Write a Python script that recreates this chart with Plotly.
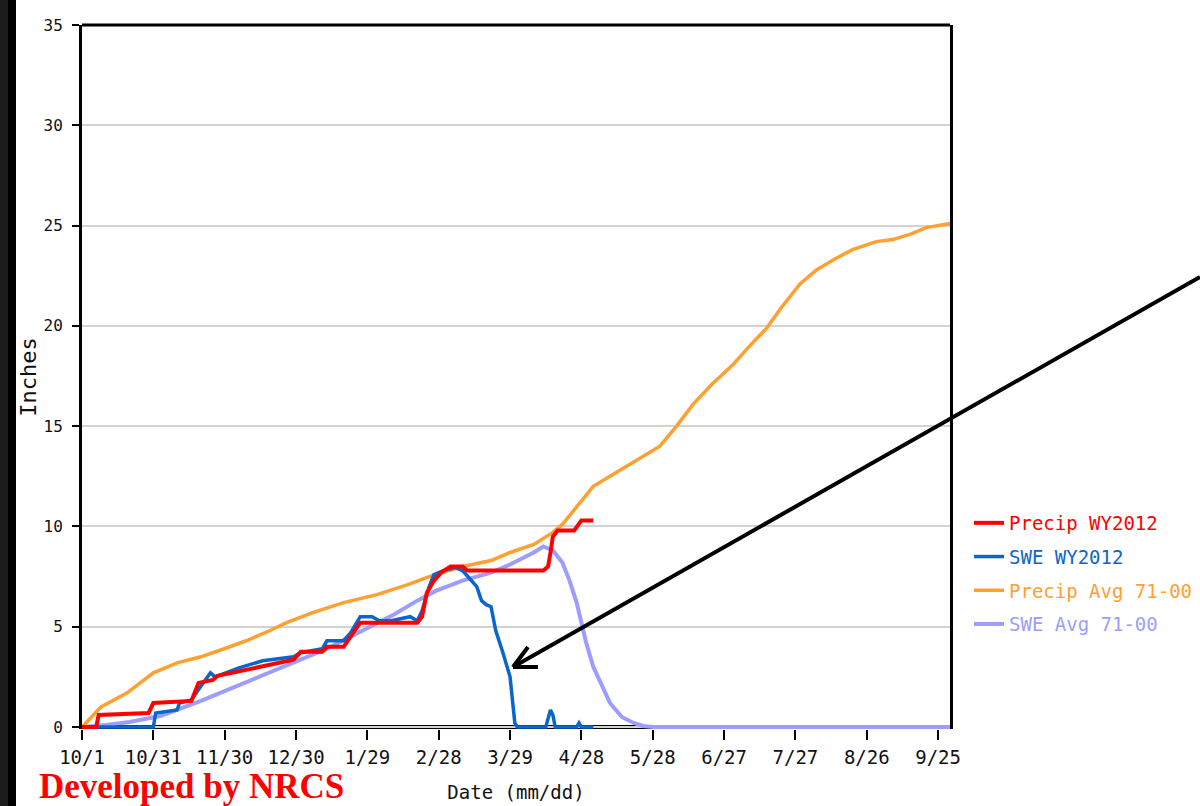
import plotly.graph_objects as go
import pandas as pd

BASE = pd.Timestamp("2011-10-01")

# ---- data (day offsets from 10/1/2011, inches) ----
precip_wy_days = [0, 6, 7, 28, 30, 46, 49, 55, 57, 66, 75, 89, 92, 101, 103, 110, 113, 117,
                  141, 143, 145, 148, 151, 155, 160, 162, 194, 196, 197, 198, 200, 207, 210, 215]
precip_wy_vals = [0, 0, 0.6, 0.7, 1.2, 1.3, 2.2, 2.35, 2.55, 2.75, 3.0, 3.35, 3.75, 3.75, 4.0, 4.0, 4.5, 5.2,
                  5.2, 5.5, 6.7, 7.3, 7.7, 8.0, 8.0, 7.8, 7.8, 8.0, 8.7, 9.5, 9.8, 9.8, 10.3, 10.3]

swe_wy_days = [0, 30, 31, 40, 41, 46, 48, 54, 56, 62, 66, 76, 89, 92, 101, 103, 110, 113, 116, 117,
               122, 125, 130, 138, 141, 143, 146, 148, 152, 157, 160, 163, 166, 168, 170, 172, 174,
               177, 180, 182, 183, 195, 196, 197, 198, 199, 208, 209, 210, 215]
swe_wy_vals = [0, 0, 0.7, 0.85, 1.2, 1.35, 1.7, 2.7, 2.5, 2.75, 2.95, 3.3, 3.5, 3.7, 3.9, 4.3, 4.3, 4.7, 5.3, 5.5,
               5.5, 5.3, 5.3, 5.5, 5.3, 5.8, 7.0, 7.6, 7.8, 7.95, 7.8, 7.4, 7.0, 6.3, 6.1, 6.0, 4.8,
               3.7, 2.5, 0.2, 0, 0, 0.4, 0.85, 0.6, 0, 0, 0.2, 0, 0]

precip_avg_days = [0, 8, 19, 30, 40, 50, 61, 69, 78, 86, 97, 110, 124, 137, 146, 160, 172, 180, 190,
                   198, 202, 208, 215, 222, 229, 236, 243, 250, 257, 265, 274, 280, 288, 294, 302,
                   309, 316, 324, 334, 341, 349, 355, 365]
precip_avg_vals = [0, 1.0, 1.7, 2.7, 3.2, 3.5, 3.95, 4.3, 4.75, 5.2, 5.7, 6.2, 6.6, 7.1, 7.5, 8.0, 8.3, 8.7, 9.1,
                   9.7, 10.1, 11.0, 12.0, 12.5, 13.0, 13.5, 14.0, 15.0, 16.1, 17.1, 18.1, 18.9, 19.9, 20.9, 22.1,
                   22.8, 23.3, 23.8, 24.2, 24.3, 24.6, 24.9, 25.1]

swe_avg_days = [0, 10, 20, 33, 50, 61, 75, 89, 103, 117, 131, 141, 149, 160, 172, 180, 190, 194,
                198, 202, 205, 208, 212, 215, 218, 222, 227, 232, 236, 240, 365]
swe_avg_vals = [0, 0.1, 0.25, 0.55, 1.3, 1.85, 2.5, 3.2, 3.9, 4.75, 5.6, 6.3, 6.8, 7.3, 7.7, 8.1, 8.7, 9.0,
                8.8, 8.2, 7.3, 6.2, 4.2, 3.0, 2.2, 1.2, 0.5, 0.2, 0.05, 0, 0]

tick_days = [0, 30, 60, 90, 120, 150, 180, 210, 240, 270, 300, 330, 360]
tick_labels = ["10/1", "10/31", "11/30", "12/30", "1/29", "2/28", "3/29",
               "4/28", "5/28", "6/27", "7/27", "8/26", "9/25"]
y_ticks = [0, 5, 10, 15, 20, 25, 30, 35]

series_names = ["Precip WY2012", "SWE WY2012", "Precip Avg 71-00", "SWE Avg 71-00"]
series_colors = ["#ff0000", "#0a66cc", "#ffa030", "#9d9dff"]


def to_dates(days):
    return [BASE + pd.Timedelta(days=d) for d in days]


# layout geometry (pixels)
W, H = 1200, 806
L, R, T, B = 82, 250, 25, 77
PW, PH = W - L - R, H - T - B


def px(x, y):
    return (x - L) / PW, (H - B - y) / PH


mono = "DejaVu Sans Mono"
x_end = BASE + pd.Timedelta(days=365)

fig = go.Figure()
data = [
    (swe_avg_days, swe_avg_vals, 3, 4.0),
    (precip_avg_days, precip_avg_vals, 2, 3.5),
    (swe_wy_days, swe_wy_vals, 1, 3.5),
    (precip_wy_days, precip_wy_vals, 0, 4.0),
]
for days, vals, idx, lw in data:
    fig.add_trace(go.Scatter(
        x=to_dates(days), y=vals, mode="lines",
        name=f"<span style='color:{series_colors[idx]}'>{series_names[idx]}</span>",
        line=dict(color=series_colors[idx], width=lw),
        legendrank=idx + 1, legendgroup=str(idx),
    ))

shapes = []
# bottom black axis line at the zero level (below traces, above grid)
shapes.append(dict(type="line", xref="x", yref="y", x0=BASE, x1=x_end, y0=0, y1=0,
                   line=dict(color="black", width=4), layer="below"))
# top border
shapes.append(dict(type="line", xref="paper", yref="paper", x0=0, x1=1, y0=1, y1=1,
                   line=dict(color="black", width=3)))
# dark strip at left edge of image
x0, y0 = px(0, H)
x1, y1 = px(8, 0)
shapes.append(dict(type="rect", xref="paper", yref="paper", x0=x0, x1=x1, y0=y0, y1=y1,
                   fillcolor="#1c1c1c", line=dict(width=0)))
x0, y0 = px(8, H)
x1, y1 = px(16, 0)
shapes.append(dict(type="rect", xref="paper", yref="paper", x0=x0, x1=x1, y0=y0, y1=y1,
                   fillcolor="#000000", line=dict(width=0)))
# pointer arrow
tip = px(513, 667)
start = px(1200, 277)
wing1 = px(528, 647)
wing2 = px(538, 667)
shapes.append(dict(type="line", xref="paper", yref="paper", x0=start[0], y0=start[1], x1=tip[0], y1=tip[1],
                   line=dict(color="black", width=4)))
shapes.append(dict(type="line", xref="paper", yref="paper", x0=wing1[0], y0=wing1[1], x1=tip[0], y1=tip[1],
                   line=dict(color="black", width=4)))
shapes.append(dict(type="line", xref="paper", yref="paper", x0=wing2[0], y0=wing2[1], x1=tip[0], y1=tip[1],
                   line=dict(color="black", width=4)))

nrcs = px(37, 787)
lg = px(969, 504)

fig.update_layout(
    width=W, height=H,
    margin=dict(l=L, r=R, t=T, b=B, autoexpand=False),
    paper_bgcolor="white", plot_bgcolor="white",
    showlegend=True,
    legend=dict(x=lg[0], y=lg[1], xanchor="left", yanchor="top",
                font=dict(family=mono, size=19, color="black"),
                bgcolor="rgba(255,255,255,0)", tracegroupgap=6, itemwidth=30),
    shapes=shapes,
    annotations=[dict(text="<b>Developed by NRCS</b>", xref="paper", yref="paper",
                      x=nrcs[0], y=nrcs[1], xanchor="left", yanchor="middle", showarrow=False,
                      font=dict(family="Liberation Serif", size=35, color="#ff0000"))],
    xaxis=dict(
        type="date",
        range=[BASE, x_end],
        tickmode="array", tickvals=to_dates(tick_days), ticktext=tick_labels,
        showline=False, showgrid=False, zeroline=False,
        ticks="outside", ticklen=10, tickwidth=2, tickcolor="black",
        tickfont=dict(family=mono, size=19, color="#111"),
        ticklabelstandoff=1,
        title=dict(text="Date (mm/dd)", font=dict(family=mono, size=19, color="#111"), standoff=18),
        automargin=False,
    ),
    yaxis=dict(
        range=[-0.1, 35],
        tickmode="array", tickvals=y_ticks,
        showline=True, linecolor="black", linewidth=3, mirror=True,
        showgrid=True, gridcolor="#d2d2d2", gridwidth=2, zeroline=False,
        ticks="outside", ticklen=7, tickwidth=2, tickcolor="black",
        tickfont=dict(family=mono, size=16, color="#111"),
        ticklabelstandoff=6,
        title=dict(text="Inches", font=dict(family=mono, size=22, color="#111"), standoff=1),
        automargin=False,
    ),
)

fig.write_html("out.html", config={"displayModeBar": False},
               post_script="document.body.style.margin='0';document.body.style.overflow='hidden';")
